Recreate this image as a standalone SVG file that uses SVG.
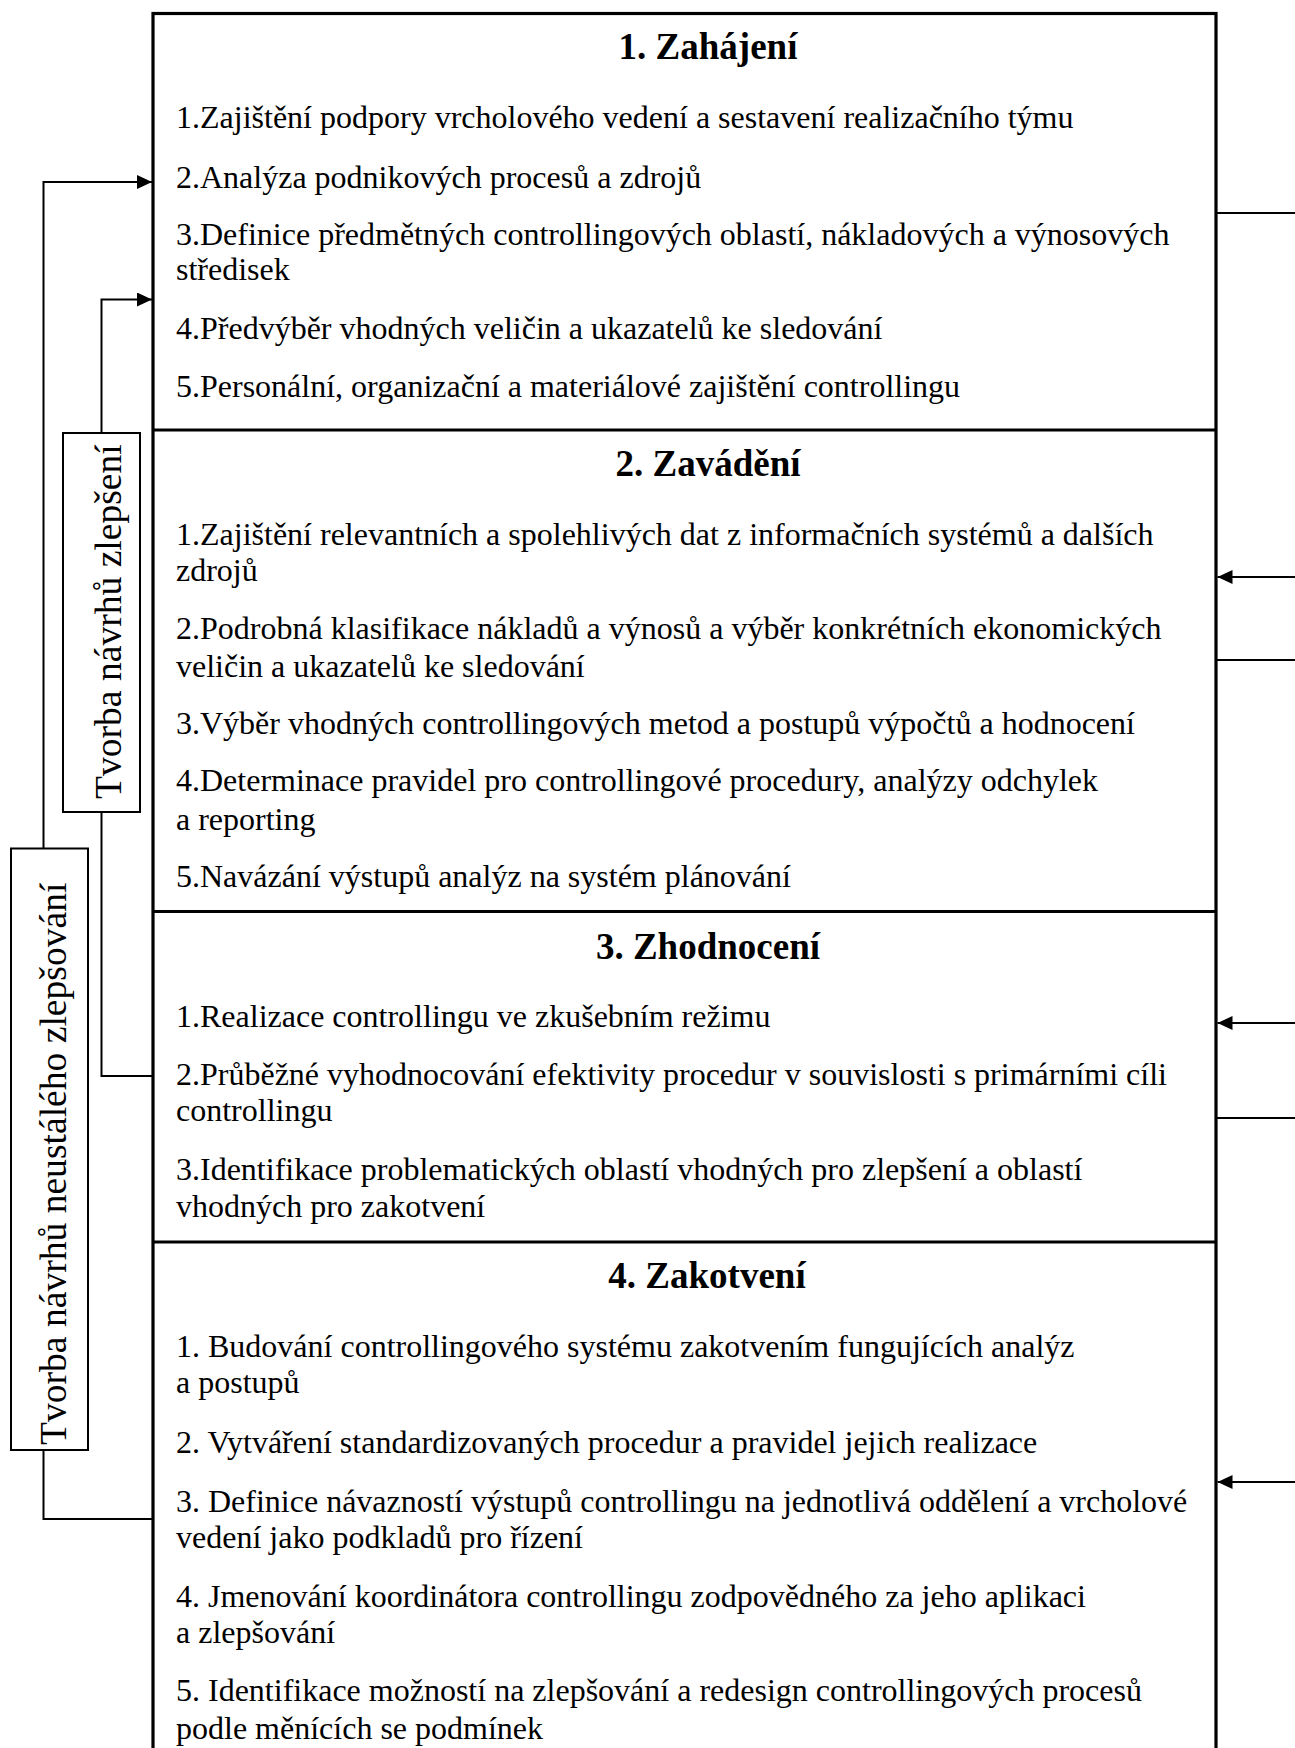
<svg xmlns="http://www.w3.org/2000/svg" width="1295" height="1748" viewBox="0 0 1295 1748">
  <style>
    .frame { fill: none; stroke: #000; stroke-width: 3.2; }
    .div { stroke: #000; stroke-width: 3.2; }
    .side { fill: #fff; stroke: #000; stroke-width: 2; }
    .wire { fill: none; stroke: #000; stroke-width: 2; }
    .title { font-family: "Liberation Serif", "Times New Roman", serif; font-size: 37px; font-weight: bold; fill: #000; text-anchor: middle; }
    .item { font-family: "Liberation Serif", "Times New Roman", serif; font-size: 32px; fill: #000; }
    .vlabel { font-family: "Liberation Serif", "Times New Roman", serif; font-size: 37.6px; fill: #000; }
  </style>
  <defs>
    <marker id="head" markerUnits="userSpaceOnUse" markerWidth="16" markerHeight="14" refX="15" refY="7" orient="auto">
      <path d="M0,0 L15,7 L0,14 Z" fill="#000"/>
    </marker>
  </defs>

  <rect width="1295" height="1748" fill="#fff"/>

  <!-- outer frame of the four phases (runs past the bottom edge) -->
  <rect class="frame" x="153" y="13.5" width="1063" height="1760"/>

  <!-- phase 1 -->
  <g id="phase-1">
    <text class="title" x="708" y="59">1. Zahájení</text>
    <text class="item" x="176" y="128">1.Zajištění podpory vrcholového vedení a sestavení realizačního týmu</text>
    <text class="item" x="176" y="188">2.Analýza podnikových procesů a zdrojů</text>
    <text class="item" x="176" y="245">3.Definice předmětných controllingových oblastí, nákladových a výnosových</text>
    <text class="item" x="176" y="280">středisek</text>
    <text class="item" x="176" y="339">4.Předvýběr vhodných veličin a ukazatelů ke sledování</text>
    <text class="item" x="176" y="397">5.Personální, organizační a materiálové zajištění controllingu</text>
  </g>
  <line class="div" x1="153" y1="430" x2="1216" y2="430"/>

  <!-- phase 2 -->
  <g id="phase-2">
    <text class="title" x="708" y="476">2. Zavádění</text>
    <text class="item" x="176" y="545">1.Zajištění relevantních a spolehlivých dat z informačních systémů a dalších</text>
    <text class="item" x="176" y="581">zdrojů</text>
    <text class="item" x="176" y="639">2.Podrobná klasifikace nákladů a výnosů a výběr konkrétních ekonomických</text>
    <text class="item" x="176" y="677">veličin a ukazatelů ke sledování</text>
    <text class="item" x="176" y="734">3.Výběr vhodných controllingových metod a postupů výpočtů a hodnocení</text>
    <text class="item" x="176" y="791">4.Determinace pravidel pro controllingové procedury, analýzy odchylek</text>
    <text class="item" x="176" y="830">a reporting</text>
    <text class="item" x="176" y="887">5.Navázání výstupů analýz na systém plánování</text>
  </g>
  <line class="div" x1="153" y1="911.5" x2="1216" y2="911.5"/>

  <!-- phase 3 -->
  <g id="phase-3">
    <text class="title" x="708" y="959">3. Zhodnocení</text>
    <text class="item" x="176" y="1027">1.Realizace controllingu ve zkušebním režimu</text>
    <text class="item" x="176" y="1085">2.Průběžné vyhodnocování efektivity procedur v souvislosti s primárními cíli</text>
    <text class="item" x="176" y="1121">controllingu</text>
    <text class="item" x="176" y="1180">3.Identifikace problematických oblastí vhodných pro zlepšení a oblastí</text>
    <text class="item" x="176" y="1217">vhodných pro zakotvení</text>
  </g>
  <line class="div" x1="153" y1="1242" x2="1216" y2="1242"/>

  <!-- phase 4 -->
  <g id="phase-4">
    <text class="title" x="707" y="1288">4. Zakotvení</text>
    <text class="item" x="176" y="1357">1. Budování controllingového systému zakotvením fungujících analýz</text>
    <text class="item" x="176" y="1393">a postupů</text>
    <text class="item" x="176" y="1453">2. Vytváření standardizovaných procedur a pravidel jejich realizace</text>
    <text class="item" x="176" y="1512">3. Definice návazností výstupů controllingu na jednotlivá oddělení a vrcholové</text>
    <text class="item" x="176" y="1548">vedení jako podkladů pro řízení</text>
    <text class="item" x="176" y="1607">4. Jmenování koordinátora controllingu zodpovědného za jeho aplikaci</text>
    <text class="item" x="176" y="1643">a zlepšování</text>
    <text class="item" x="176" y="1701">5. Identifikace možností na zlepšování a redesign controllingových procesů</text>
    <text class="item" x="176" y="1739">podle měnících se podmínek</text>
  </g>

  <!-- feedback loops and side links -->
  <g id="connectors">
    <!-- continuous improvement loop: phase 4 back to phase 1 -->
    <polyline class="wire" points="153,1519 43.5,1519 43.5,182 152,182" marker-end="url(#head)"/>
    <!-- improvement loop: phase 3 back to phase 1 -->
    <polyline class="wire" points="153,1076 101.5,1076 101.5,299.5 152,299.5" marker-end="url(#head)"/>
    <!-- links on the right edge -->
    <line class="wire" x1="1216" y1="213" x2="1295" y2="213"/>
    <line class="wire" x1="1295" y1="577" x2="1217.5" y2="577" marker-end="url(#head)"/>
    <line class="wire" x1="1216" y1="660" x2="1295" y2="660"/>
    <line class="wire" x1="1295" y1="1023" x2="1217.5" y2="1023" marker-end="url(#head)"/>
    <line class="wire" x1="1216" y1="1118" x2="1295" y2="1118"/>
    <line class="wire" x1="1295" y1="1482" x2="1217.5" y2="1482" marker-end="url(#head)"/>
  </g>

  <!-- side label: improvement proposals -->
  <g id="label-improvement">
    <rect class="side" x="63" y="433" width="77" height="379"/>
    <text class="vlabel" transform="translate(121,799) rotate(-90)">Tvorba návrhů zlepšení</text>
  </g>

  <!-- side label: continuous improvement proposals -->
  <g id="label-continuous">
    <rect class="side" x="11" y="848.5" width="77" height="601.5"/>
    <text class="vlabel" transform="translate(66,1445) rotate(-90)">Tvorba návrhů neustálého zlepšování</text>
  </g>
</svg>
